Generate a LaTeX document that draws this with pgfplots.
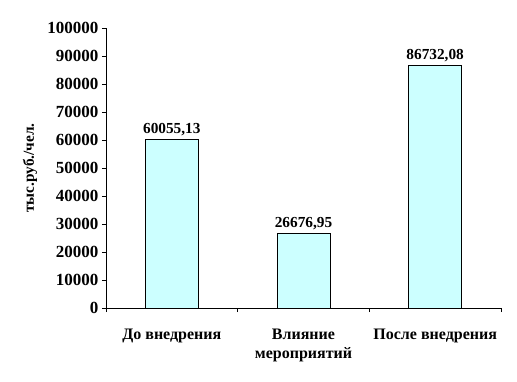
\documentclass[border=0pt]{standalone}
\usepackage{fontspec}
\setmainfont{Liberation Serif}
\usepackage{pgfplots}
\pgfplotsset{compat=1.18}
\definecolor{barfill}{HTML}{CCFFFF}
\newcommand{\lf}{\fontsize{15.3}{19.5}\selectfont\bfseries}
\newcommand{\xf}{\fontsize{16}{19}\selectfont\bfseries}
\newcommand{\yf}{\fontsize{17}{20}\selectfont\bfseries}
\begin{document}
\begin{tikzpicture}
\useasboundingbox (-106pt,-73pt) rectangle (411pt,308pt);
\begin{axis}[
  at={(0pt,0pt)}, anchor=south west,
  scale only axis, width=395pt, height=280pt,
  xmin=-0.5, xmax=2.5, ymin=0, ymax=100000,
  axis x line*=bottom, axis y line*=left,
  axis line style={line width=0.8pt},
  tick style={black, line width=0.8pt},
  tick align=outside, major tick length=4pt,
  ytick={0,10000,...,100000}, scaled y ticks=false,
  yticklabels={0,10000,20000,30000,40000,50000,60000,70000,80000,90000,100000},
  yticklabel style={font=\yf},
  xtick={-0.5,0.5,1.5,2.5}, xticklabels={},
  extra x ticks={0,1,2},
  extra x tick labels={До внедрения, {Влияние\\мероприятий}, После внедрения},
  extra x tick style={major tick length=0pt, xticklabel style={font=\xf, align=center, yshift=-17pt}},
  ylabel={тыс.руб./чел.},
  ylabel style={at={(axis description cs:-0.192,0.5)}, anchor=center, font=\lf},
  nodes near coords,
  nodes near coords style={font=\lf, /pgf/number format/.cd, fixed, fixed zerofill, precision=2, use comma, 1000 sep={}, assume math mode=true},
]
\addplot[ybar, bar width=53pt, fill=barfill, draw=black, line width=0.8pt] coordinates {(0,60055.13) (1,26676.95) (2,86732.08)};
\end{axis}
\end{tikzpicture}
\end{document}
